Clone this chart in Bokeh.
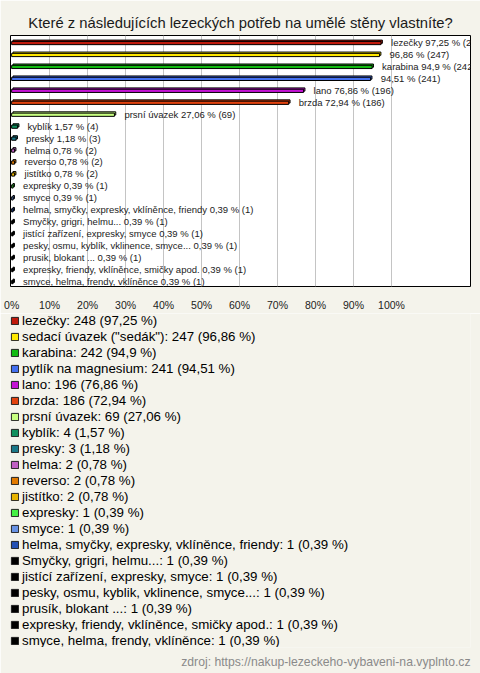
from bokeh.plotting import figure
from bokeh.layouts import column
from bokeh.models import (ColumnDataSource, Range1d, FixedTicker, Legend, LegendItem, Title, LabelSet)
from bokeh.core.properties import value
from bokeh.embed import file_html
from bokeh.resources import INLINE

title_text = "Které z následujících lezeckých potřeb na umělé stěny vlastníte?"
source_text = "zdroj: https://nakup-lezeckeho-vybaveni-na.vyplnto.cz"

names = [
    "lezečky",
    "sedací úvazek (\"sedák\")",
    "karabina",
    "pytlík na magnesium",
    "lano",
    "brzda",
    "prsní úvazek",
    "kyblík",
    "presky",
    "helma",
    "reverso",
    "jistítko",
    "expresky",
    "smyce",
    "helma, smyčky, expresky, vklíněnce, friendy",
    "Smyčky, grigri, helmu...",
    "jistící zařízení, expresky, smyce",
    "pesky, osmu, kyblik, vklinence, smyce...",
    "prusík, blokant ...",
    "expresky, friendy, vklíněnce, smičky apod.",
    "smyce, helma, frendy, vklíněnce",
]
bar_names = [
    "lezečky", "", "karabina", "", "lano", "brzda", "prsní úvazek",
    "kyblík", "presky", "helma", "reverso", "jistítko", "expresky", "smyce",
    "helma, smyčky, expresky, vklíněnce, friendy",
    "Smyčky, grigri, helmu...",
    "jistící zařízení, expresky, smyce",
    "pesky, osmu, kyblík, vklinence, smyce...",
    "prusik, blokant ...",
    "expresky, friendy, vklíněnce, smičky apod.",
    "smyce, helma, frendy, vklíněnce",
]
counts = [248, 247, 242, 241, 196, 186, 69, 4, 3, 2, 2, 2, 1, 1, 1, 1, 1, 1, 1, 1, 1]
percents = [97.25, 96.86, 94.9, 94.51, 76.86, 72.94, 27.06, 1.57, 1.18, 0.78, 0.78,
            0.78, 0.39, 0.39, 0.39, 0.39, 0.39, 0.39, 0.39, 0.39, 0.39]
colors = ["#c01a0c", "#ffe800", "#12bb12", "#4470f0", "#c412d4", "#e2420e",
          "#c8ff80", "#10905e", "#1a7888", "#c060c4", "#e27a00", "#e8b400",
          "#44f044", "#6892e4", "#2450b4", "#000000", "#000000", "#000000",
          "#000000", "#000000", "#000000"]
tick_values = [0, 10, 20, 30, 40, 50, 60, 70, 80, 90, 100]
tick_labels = ["0%", "10%", "20%", "30%", "40%", "50%", "60%", "70%", "80%", "90%", "100%"]

FONT = "Liberation Sans"
BG = "#f4f3eb"


def fmt(v):
    return f"{v:g}".replace(".", ",")


idx = list(range(len(names)))
bar_labels = [(n + " " if n else "") + f"{fmt(pc)} % ({c})" for n, pc, c in zip(bar_names, percents, counts)]
legend_labels = [f"{n}: {c} ({fmt(pc)} %)" for n, pc, c in zip(names, percents, counts)]

src = ColumnDataSource(dict(
    y=idx,
    y_front=[i + 0.05 for i in idx],
    y_back=[i - 0.06 for i in idx],
    pct=percents,
    pct_back=[pc + 0.35 for pc in percents],
    back_left=[0.35] * len(idx),
    color=colors,
    label=bar_labels,
))

p = figure(width=480, height=313,
           output_backend="svg", toolbar_location=None,
           x_range=Range1d(-0.3, 120.8), y_range=Range1d(20.42, -0.58),
           background_fill_color="white", border_fill_color=BG,
           min_border_left=10, min_border_right=10, min_border_top=35, min_border_bottom=26)
p.outline_line_color = "black"
p.outline_line_width = 1

p.title.text = title_text
p.title.align = "center"
p.title.text_font = FONT
p.title.text_font_size = "14.8px"
p.title.text_font_style = "normal"
p.title.text_color = "#1a1a1a"
p.title.standoff = 10

p.yaxis.visible = False
p.ygrid.visible = False
xa = p.xaxis[0]
xa.ticker = FixedTicker(ticks=tick_values)
xa.major_label_overrides = {t: l for t, l in zip(tick_values, tick_labels)}
xa.axis_line_color = None
xa.major_tick_line_color = None
xa.minor_tick_line_color = None
xa.major_label_standoff = 6
xa.major_label_text_font = FONT
xa.major_label_text_font_size = "10.5px"
xa.major_label_text_color = "#222222"
p.xgrid.ticker = FixedTicker(ticks=tick_values[1:])
p.xgrid.grid_line_color = "#c4c4c4"

# 3D back face
p.hbar(y="y_back", left="back_left", right="pct_back", height=0.27, source=src,
       fill_color="color", line_color="black", line_width=1)
p.hbar(y="y_front", left=0, right="pct", height=0.27, source=src,
       fill_color="color", line_color="black", line_width=1)

labels = LabelSet(x="pct", y="y", text="label", source=src, x_offset=10,
                  text_baseline="middle", text_align="left", text_font=value(FONT),
                  text_font_size="9.5px", text_color="#222222")
p.add_layout(labels)

# legend + footer figure
q = figure(width=480, height=360, output_backend="svg", toolbar_location=None,
           x_range=Range1d(0, 1), y_range=Range1d(0, 1),
           background_fill_color=BG, border_fill_color=BG,
           min_border_left=8, min_border_right=9, min_border_top=0, min_border_bottom=0)
q.outline_line_color = None
q.axis.visible = False
q.grid.visible = False
# hidden renderer that only feeds the legend swatches
swatch = q.hbar(y="y", left=0, right="pct", height=0.3, source=src,
                fill_color="color", line_color="#222222", line_width=1)
swatch.visible = False

items = [LegendItem(label=lab, renderers=[swatch], index=i) for i, lab in enumerate(legend_labels)]
legend = Legend(items=items, location="top_left", orientation="vertical",
                glyph_width=9, glyph_height=9, label_standoff=3, spacing=1,
                label_height=12, label_text_font=FONT, label_text_font_size="13.3px",
                label_text_color="#000000", border_line_color=None,
                background_fill_alpha=0, margin=0, padding=1,
                inactive_fill_alpha=0)
q.add_layout(legend, "center")

footer = Title(text=source_text, align="right", text_font=FONT, text_font_size="12.2px",
               text_font_style="normal", text_color="#8a8a8a")
q.add_layout(footer, "below")

layout = column(p, q, spacing=0)
open("out.html", "w").write(file_html(layout, INLINE))
